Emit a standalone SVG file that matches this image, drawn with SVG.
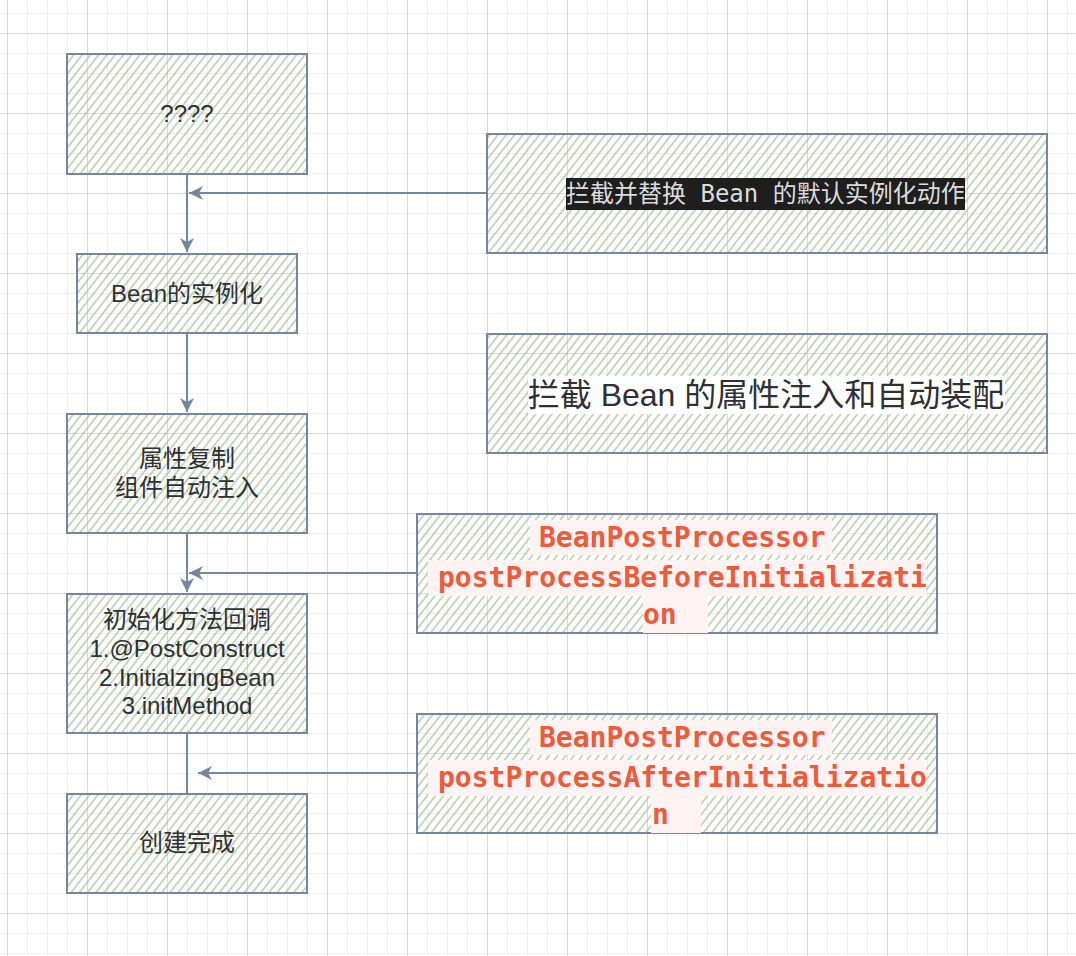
<svg xmlns="http://www.w3.org/2000/svg" width="1076" height="956" viewBox="0 0 1076 956">
<style>
.box{fill:url(#hatch);stroke:#77859e;stroke-width:2}
.lbl{font-family:"Liberation Sans","Noto Sans CJK SC",sans-serif;font-size:24px;fill:#2f3033;text-anchor:middle}
.bpp{font-family:"DejaVu Sans Mono","Liberation Mono",monospace;font-size:28px;font-weight:bold;fill:#ef5a3b}
.hl{fill:#fdf3f3}
.conn{fill:none;stroke:#77859e;stroke-width:2}
</style>
<defs>
<pattern id="minor" patternUnits="userSpaceOnUse" x="7" y="13" width="20" height="20">
<path d="M0,0 V20 M0,0 H20" fill="none" stroke="#efefef" stroke-width="2"/>
</pattern>
<pattern id="major" patternUnits="userSpaceOnUse" x="7" y="33" width="80" height="80">
<path d="M0,0 V80 M0,0 H80" fill="none" stroke="#d2d2d2" stroke-width="1.5"/>
</pattern>
<pattern id="hatch" patternUnits="userSpaceOnUse" width="6.5" height="6" patternTransform="rotate(38)">
<line x1="1" y1="0" x2="1" y2="6" stroke="#a9c49b" stroke-width="1.3"/>
</pattern>
<marker id="arr" markerUnits="userSpaceOnUse" markerWidth="16" markerHeight="14" refX="14" refY="7" orient="auto">
<path d="M0,0 L14,7 L0,14 L4,7 z" fill="#77859e"/>
</marker>
</defs>
<rect width="1076" height="956" fill="#fff"/>
<rect width="1076" height="956" fill="url(#minor)"/>
<rect width="1076" height="956" fill="url(#major)"/>

<g id="connectors">
<path class="conn" d="M187,174 V252" marker-end="url(#arr)"/>
<path class="conn" d="M487,193 H189" marker-end="url(#arr)"/>
<path class="conn" d="M187,333 V412" marker-end="url(#arr)"/>
<path class="conn" d="M187,533 V592" marker-end="url(#arr)"/>
<path class="conn" d="M417,573 H189" marker-end="url(#arr)"/>
<path class="conn" d="M187,733 V794"/>
<path class="conn" d="M417,773 H198" marker-end="url(#arr)"/>
</g>

<g id="node-unknown">
<rect class="box" x="67" y="54" width="240" height="120"/>
<text class="lbl" x="187" y="122">????</text>
</g>

<g id="node-replace">
<rect class="box" x="487" y="134" width="560" height="119"/>
<rect x="566" y="178" width="399" height="32" fill="#1e1e1e"/>
<text x="566" y="202" font-family="'DejaVu Sans Mono','Noto Sans CJK SC',monospace" font-size="24" fill="#dcdcdc">拦截并替换 Bean 的默认实例化动作</text>
</g>

<g id="node-instantiate">
<rect class="box" x="77" y="254" width="220" height="79"/>
<text class="lbl" x="187" y="302">Bean的实例化</text>
</g>

<g id="node-inject-intercept">
<rect class="box" x="487" y="334" width="560" height="119"/>
<rect x="528" y="376" width="477" height="38" fill="#fff"/>
<text x="766" y="406" font-family="'Liberation Sans','Noto Sans CJK SC',sans-serif" font-size="32" fill="#2f3033" text-anchor="middle">拦截 Bean 的属性注入和自动装配</text>
</g>

<g id="node-props">
<rect class="box" x="67" y="414" width="240" height="119"/>
<text class="lbl" x="187" y="467">属性复制</text>
<text class="lbl" x="187" y="496">组件自动注入</text>
</g>

<g id="node-bpp-before">
<rect class="box" x="417" y="514" width="520" height="119"/>
<rect class="hl" x="530" y="520" width="302" height="35"/>
<rect class="hl" x="428" y="560" width="498" height="36"/>
<rect class="hl" x="643" y="596" width="65" height="37"/>
<text class="bpp" x="539" y="547">BeanPostProcessor</text>
<text class="bpp" x="438" y="587">postProcessBeforeInitializati</text>
<text class="bpp" x="643" y="624">on</text>
</g>

<g id="node-init">
<rect class="box" x="67" y="594" width="240" height="139"/>
<text class="lbl" x="187" y="628">初始化方法回调</text>
<text class="lbl" x="187" y="657">1.@PostConstruct</text>
<text class="lbl" x="187" y="686">2.InitialzingBean</text>
<text class="lbl" x="187" y="714">3.initMethod</text>
</g>

<g id="node-bpp-after">
<rect class="box" x="417" y="714" width="520" height="119"/>
<rect class="hl" x="530" y="720" width="302" height="35"/>
<rect class="hl" x="428" y="760" width="498" height="36"/>
<rect class="hl" x="651" y="796" width="50" height="37"/>
<text class="bpp" x="539" y="747">BeanPostProcessor</text>
<text class="bpp" x="438" y="787">postProcessAfterInitializatio</text>
<text class="bpp" x="652" y="824">n</text>
</g>

<g id="node-done">
<rect class="box" x="67" y="794" width="240" height="99"/>
<text class="lbl" x="187" y="851">创建完成</text>
</g>
</svg>
